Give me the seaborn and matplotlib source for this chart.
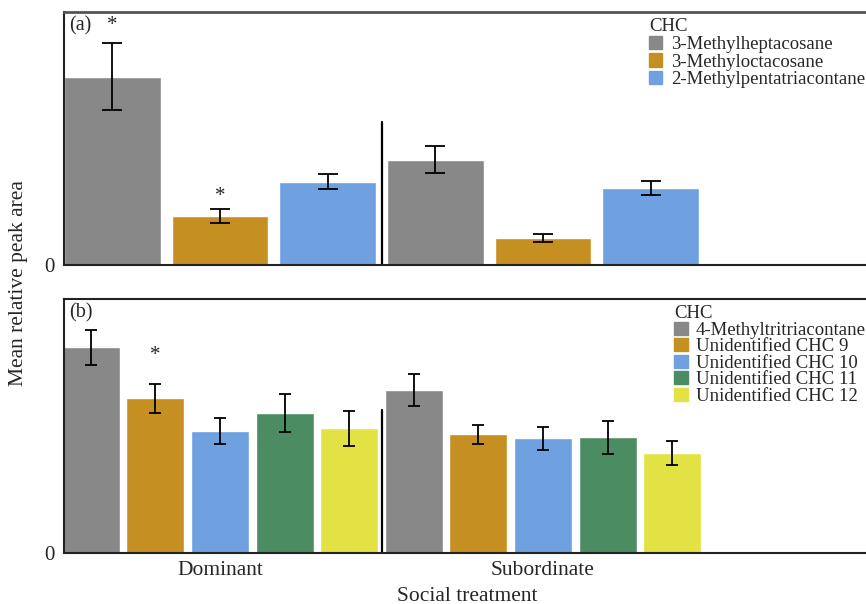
import matplotlib
matplotlib.use("Agg")
import matplotlib.pyplot as plt
import seaborn as sns
import pandas as pd

sns.set_theme(style="white")
plt.rcParams["font.family"] = ["Liberation Serif", "DejaVu Serif"]

treatments = ["Dominant", "Subordinate"]

# Panel (a)
chc_a = ["3-Methylheptacosane", "3-Methyloctacosane", "2-Methylpentatriacontane"]
mean_a_dom = [0.188, 0.049, 0.083]
se_a_dom = [0.0335, 0.007, 0.0075]
mean_a_sub = [0.105, 0.027, 0.077]
se_a_sub = [0.0135, 0.004, 0.007]
colors_a = ["#888888", "#C58F22", "#6FA0E0"]

# Panel (b)
chc_b = ["4-Methyltritriacontane", "Unidentified CHC 9", "Unidentified CHC 10",
         "Unidentified CHC 11", "Unidentified CHC 12"]
mean_b_dom = [0.206, 0.155, 0.122, 0.140, 0.125]
se_b_dom = [0.0175, 0.0145, 0.013, 0.019, 0.0175]
mean_b_sub = [0.163, 0.119, 0.115, 0.116, 0.100]
se_b_sub = [0.016, 0.0095, 0.0115, 0.0165, 0.012]
colors_b = ["#888888", "#C58F22", "#6FA0E0", "#4B8C62", "#E3E244"]

# significance marks: (treatment, compound, offset above error bar in points)
stars_a = [("Dominant", "3-Methylheptacosane", 13), ("Dominant", "3-Methyloctacosane", 9)]
stars_b = [("Dominant", "Unidentified CHC 9", 20)]


def build_frame(chcs, dom_m, dom_s, sub_m, sub_s):
    rows = []
    for c, m, s in zip(chcs, dom_m, dom_s):
        rows.append({"treatment": "Dominant", "CHC": c, "mean": m, "se": s})
    for c, m, s in zip(chcs, sub_m, sub_s):
        rows.append({"treatment": "Subordinate", "CHC": c, "mean": m, "se": s})
    return pd.DataFrame(rows)


df_a = build_frame(chc_a, mean_a_dom, se_a_dom, mean_a_sub, se_a_sub)
df_b = build_frame(chc_b, mean_b_dom, se_b_dom, mean_b_sub, se_b_sub)

fig = plt.figure(figsize=(8.66, 6.04), dpi=100)
ax_a = fig.add_axes([0.0739, 0.5613, 0.9261, 0.4189])
ax_b = fig.add_axes([0.0739, 0.0844, 0.9261, 0.4205])


def draw_panel(ax, df, chcs, colors, ylim, capsize, stars, letter, legend_x, row_gap):
    sns.barplot(data=df, x="treatment", y="mean", hue="CHC", order=treatments,
                hue_order=chcs, palette=colors, errorbar=None, width=1.0, gap=0.1,
                saturation=1, ax=ax, legend=False)
    centers = {}
    for chc, cont in zip(chcs, ax.containers):
        for trt, bar in zip(treatments, cont):
            xc = bar.get_x() + bar.get_width() / 2
            row = df[(df["treatment"] == trt) & (df["CHC"] == chc)].iloc[0]
            ax.errorbar(xc, row["mean"], yerr=row["se"], fmt="none", ecolor="black",
                        elinewidth=1.3, capsize=capsize, capthick=1.3, zorder=3)
            centers[(trt, chc)] = (xc, row["mean"] + row["se"])
    for trt, chc, off in stars:
        xc, ytop = centers[(trt, chc)]
        ax.annotate("*", (xc, ytop), xytext=(0, off), textcoords="offset points",
                    ha="center", va="center", fontsize=15)
    ax.axvline(0.5, ymin=0, ymax=0.565, color="black", lw=1.6)
    ax.set_xlim(-0.483, 2.0)
    ax.set_ylim(*ylim)
    ax.set_yticks([0])
    ax.set_yticklabels(["0"], fontsize=15)
    ax.tick_params(axis="both", length=0, pad=7)
    ax.set_xlabel("")
    ax.set_ylabel("")
    ax.spines["right"].set_visible(False)
    for side in ["left", "bottom", "top"]:
        ax.spines[side].set_color("#222222")
        ax.spines[side].set_linewidth(1.5)
    ax.text(0.006, 0.985, letter, transform=ax.transAxes, ha="left", va="top",
            fontsize=14.5)
    handles = [plt.Rectangle((0, 0), 1, 1, color=c) for c in colors]
    leg = ax.legend(handles, chcs, title="CHC", loc="upper left",
                    bbox_to_anchor=(legend_x, 0.975), frameon=False, fontsize=13.5,
                    title_fontsize=13.5, handlelength=0.72, handleheight=0.72,
                    handletextpad=0.45, labelspacing=row_gap, borderpad=0,
                    borderaxespad=0, alignment="left")
    return leg


draw_panel(ax_a, df_a, chc_a, colors_a, (0, 0.253), 7.5, stars_a, "(a)", 0.7294, 0.02)
draw_panel(ax_b, df_b, chc_b, colors_b, (0, 0.254), 4.5, stars_b, "(b)", 0.7606, -0.04)

ax_a.set_xticklabels([])
ax_a.spines["top"].set_color("#555555")
ax_a.spines["top"].set_linewidth(2)
ax_b.set_xticks([0, 1])
ax_b.set_xticklabels(treatments, fontsize=15.5)
ax_b.tick_params(axis="x", pad=6)

fig.text(0.021, 0.531, "Mean relative peak area", rotation=90, ha="center",
         va="center", fontsize=15.5)
fig.text(0.540, 0.013, "Social treatment", ha="center", va="center", fontsize=15.5)

fig.savefig("out.png", dpi=100)
